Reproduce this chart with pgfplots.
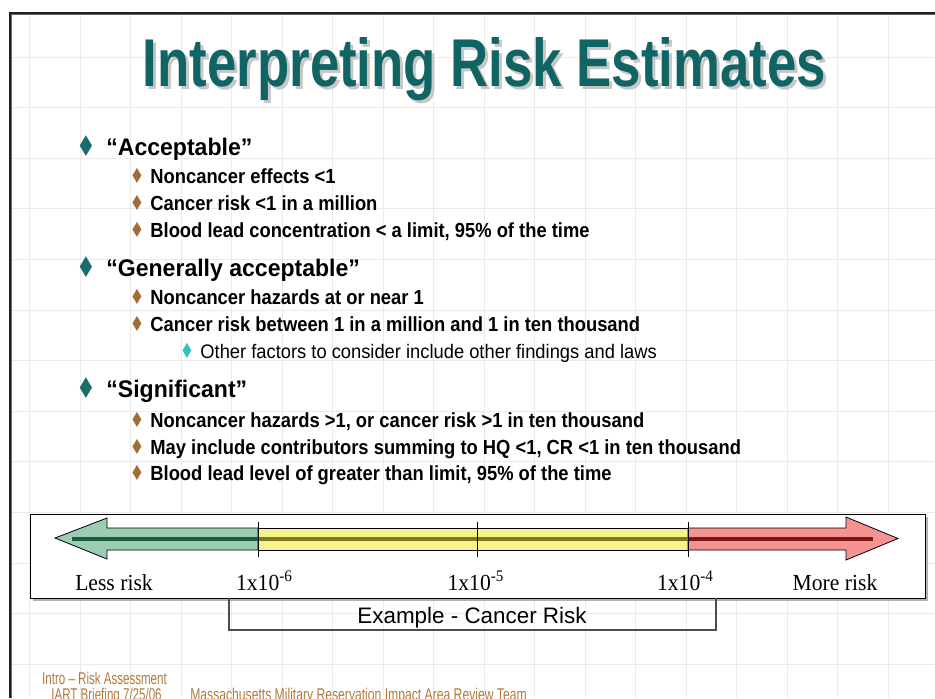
\documentclass[border=0pt]{standalone}
\usepackage{fontspec}
\setmainfont{Liberation Sans}
\newfontfamily\serifx{Liberation Serif}
\newfontfamily\dv{DejaVu Sans}
\usepackage{pgfplots}
\pgfplotsset{compat=1.18}
\definecolor{titlec}{HTML}{116464}
\definecolor{bulA}{HTML}{1A6B6B}
\definecolor{bulB}{HTML}{A36C36}
\definecolor{bulC}{HTML}{33C0C0}
\definecolor{footc}{HTML}{B07A3C}
\definecolor{gfill}{HTML}{9BCDB2}
\definecolor{yfill}{HTML}{F6F38A}
\definecolor{rfill}{HTML}{F59292}
\definecolor{gline}{HTML}{1E5A3C}
\definecolor{yline}{HTML}{7D7A1E}
\definecolor{rline}{HTML}{7A1616}
\newcommand{\LA}[3]{\node[anchor=base west,inner sep=0pt,font=\fontsize{12pt}{13pt}\selectfont\bfseries] at (axis cs:#1,#2) {\scalebox{0.96}[1]{#3}};
  \node[anchor=base,inner sep=0pt,text=bulA,font=\dv\fontsize{11pt}{12pt}\selectfont] at (axis cs:86,#2+1) {\scalebox{1}[1.3]{♦}};}
\newcommand{\LB}[2]{\node[anchor=base west,inner sep=0pt,font=\fontsize{10.2pt}{12pt}\selectfont\bfseries] at (axis cs:150,#1) {\scalebox{0.9}[1]{#2}};
  \node[anchor=base,inner sep=0pt,text=bulB,font=\dv\fontsize{8pt}{9pt}\selectfont] at (axis cs:137,#1) {\scalebox{1}[1.3]{♦}};}
\newcommand{\LC}[2]{\node[anchor=base west,inner sep=0pt,font=\fontsize{9.8pt}{12pt}\selectfont] at (axis cs:200,#1) {\scalebox{0.935}[1]{#2}};
  \node[anchor=base,inner sep=0pt,text=bulC,font=\dv\fontsize{8pt}{9pt}\selectfont] at (axis cs:187,#1) {\scalebox{1}[1.3]{♦}};}
\begin{document}
\begin{tikzpicture}
\begin{axis}[width=467.5pt,height=349pt,scale only axis,
  xmin=0,xmax=935,ymin=0,ymax=698,y dir=reverse,
  axis line style={draw=none},xtick=\empty,ytick=\empty,
  clip=false]
% grid of the slide background
\pgfplotsinvokeforeach{29.5,80,130.5,181,231.5,282,332.5,383,433.5,484,534.5,585,635.5,686,736.5,787,837.5,888}{
  \addplot[draw=black!8,line width=0.5pt] coordinates {(#1,13) (#1,698)};}
\pgfplotsinvokeforeach{57,107.6,158.2,208.8,259.4,310,360.6,411.2,461.8,512.4,563,613.6,664.2}{
  \addplot[draw=black!8,line width=0.5pt] coordinates {(10,#1) (935,#1)};}
% slide frame
\addplot[draw=black!60,line width=0.6pt] coordinates {(11.5,698) (11.5,14.5) (935,14.5)};
\addplot[draw=black!88,line width=1.1pt] coordinates {(10,698) (10,13) (935,13)};
% title
\node[anchor=base,inner sep=0pt,text=black!22] at (axis cs:487.5,89) {\resizebox{341.5pt}{24.5pt}{\bfseries Interpreting Risk Estimates}};
\node[anchor=base,inner sep=0pt,text=titlec] at (axis cs:484.5,86) {\resizebox{341.5pt}{24.5pt}{\bfseries Interpreting Risk Estimates}};
% bullets
\LA{106}{155}{“Acceptable”}
\LB{183}{Noncancer effects <1}
\LB{210}{Cancer risk <1 in a million}
\LB{237}{Blood lead concentration < a limit, 95\% of the time}
\LA{106}{276}{“Generally acceptable”}
\LB{304}{Noncancer hazards at or near 1}
\LB{331}{Cancer risk between 1 in a million and 1 in ten thousand}
\LC{358}{Other factors to consider include other findings and laws}
\LA{106}{397}{“Significant”}
\LB{427}{Noncancer hazards >1, or cancer risk >1 in ten thousand}
\LB{454}{May include contributors summing to HQ <1, CR <1 in ten thousand}
\LB{480}{Blood lead level of greater than limit, 95\% of the time}
% box with shadow
\addplot[fill=black!30,draw=none] coordinates {(33,517) (928,517) (928,601) (33,601)} --cycle;
\addplot[fill=white,draw=black,line width=0.5pt] coordinates {(30,514) (925,514) (925,598) (30,598)} --cycle;
% arrow
\addplot[fill=gfill,draw=black,line width=0.4pt] coordinates {(55,538) (107,518) (107,528) (258,528) (258,550) (107,550) (107,559)} --cycle;
\addplot[fill=yfill,draw=black,line width=0.4pt] coordinates {(258,528) (688,528) (688,550) (258,550)} --cycle;
\addplot[fill=rfill,draw=black,line width=0.4pt] coordinates {(688,528) (846,528) (846,517) (898,538.5) (846,560) (846,550) (688,550)} --cycle;
\addplot[draw=gline,line width=2pt] coordinates {(72,539) (258,539)};
\addplot[draw=yline,line width=2pt] coordinates {(258,539) (688,539)};
\addplot[draw=rline,line width=2pt] coordinates {(688,539) (873,539)};
\addplot[draw=black,line width=0.5pt] coordinates {(258,522) (258,557)};
\addplot[draw=black,line width=0.5pt] coordinates {(477,522) (477,557)};
\addplot[draw=black,line width=0.5pt] coordinates {(688,522) (688,557)};
% labels
\node[anchor=base,inner sep=0pt,font=\serifx\fontsize{11.5pt}{12pt}\selectfont] at (axis cs:114,590) {\scalebox{0.94}[1]{Less risk}};
\node[anchor=base,inner sep=0pt,font=\serifx\fontsize{11.5pt}{12pt}\selectfont] at (axis cs:264.5,590) {\scalebox{0.94}[1]{1x10\textsuperscript{-6}}};
\node[anchor=base,inner sep=0pt,font=\serifx\fontsize{11.5pt}{12pt}\selectfont] at (axis cs:476,590) {\scalebox{0.94}[1]{1x10\textsuperscript{-5}}};
\node[anchor=base,inner sep=0pt,font=\serifx\fontsize{11.5pt}{12pt}\selectfont] at (axis cs:685.5,590) {\scalebox{0.94}[1]{1x10\textsuperscript{-4}}};
\node[anchor=base,inner sep=0pt,font=\serifx\fontsize{11.5pt}{12pt}\selectfont] at (axis cs:835,590) {\scalebox{0.94}[1]{More risk}};
% bracket
\addplot[draw=black!70,line width=0.6pt] coordinates {(229,598) (229,630) (716,630) (716,598)};
\node[anchor=base,inner sep=0pt,font=\fontsize{11.2pt}{13pt}\selectfont] at (axis cs:472,623) {Example - Cancer Risk};
% footer
\node[anchor=base,inner sep=0pt,text=footc,font=\fontsize{8.5pt}{9pt}\selectfont] at (axis cs:104.5,684) {\scalebox{0.68}[1]{Intro – Risk Assessment}};
\node[anchor=base,inner sep=0pt,text=footc,font=\fontsize{8.5pt}{9pt}\selectfont] at (axis cs:106.5,700) {\scalebox{0.68}[1]{IART Briefing 7/25/06}};
\node[anchor=base,inner sep=0pt,text=footc,font=\fontsize{8.5pt}{9pt}\selectfont] at (axis cs:358.5,700) {\scalebox{0.715}[1]{Massachusetts Military Reservation Impact Area Review Team}};
\end{axis}
\pgfresetboundingbox
\useasboundingbox (current axis.south west) rectangle (current axis.north east);
\end{tikzpicture}
\end{document}
